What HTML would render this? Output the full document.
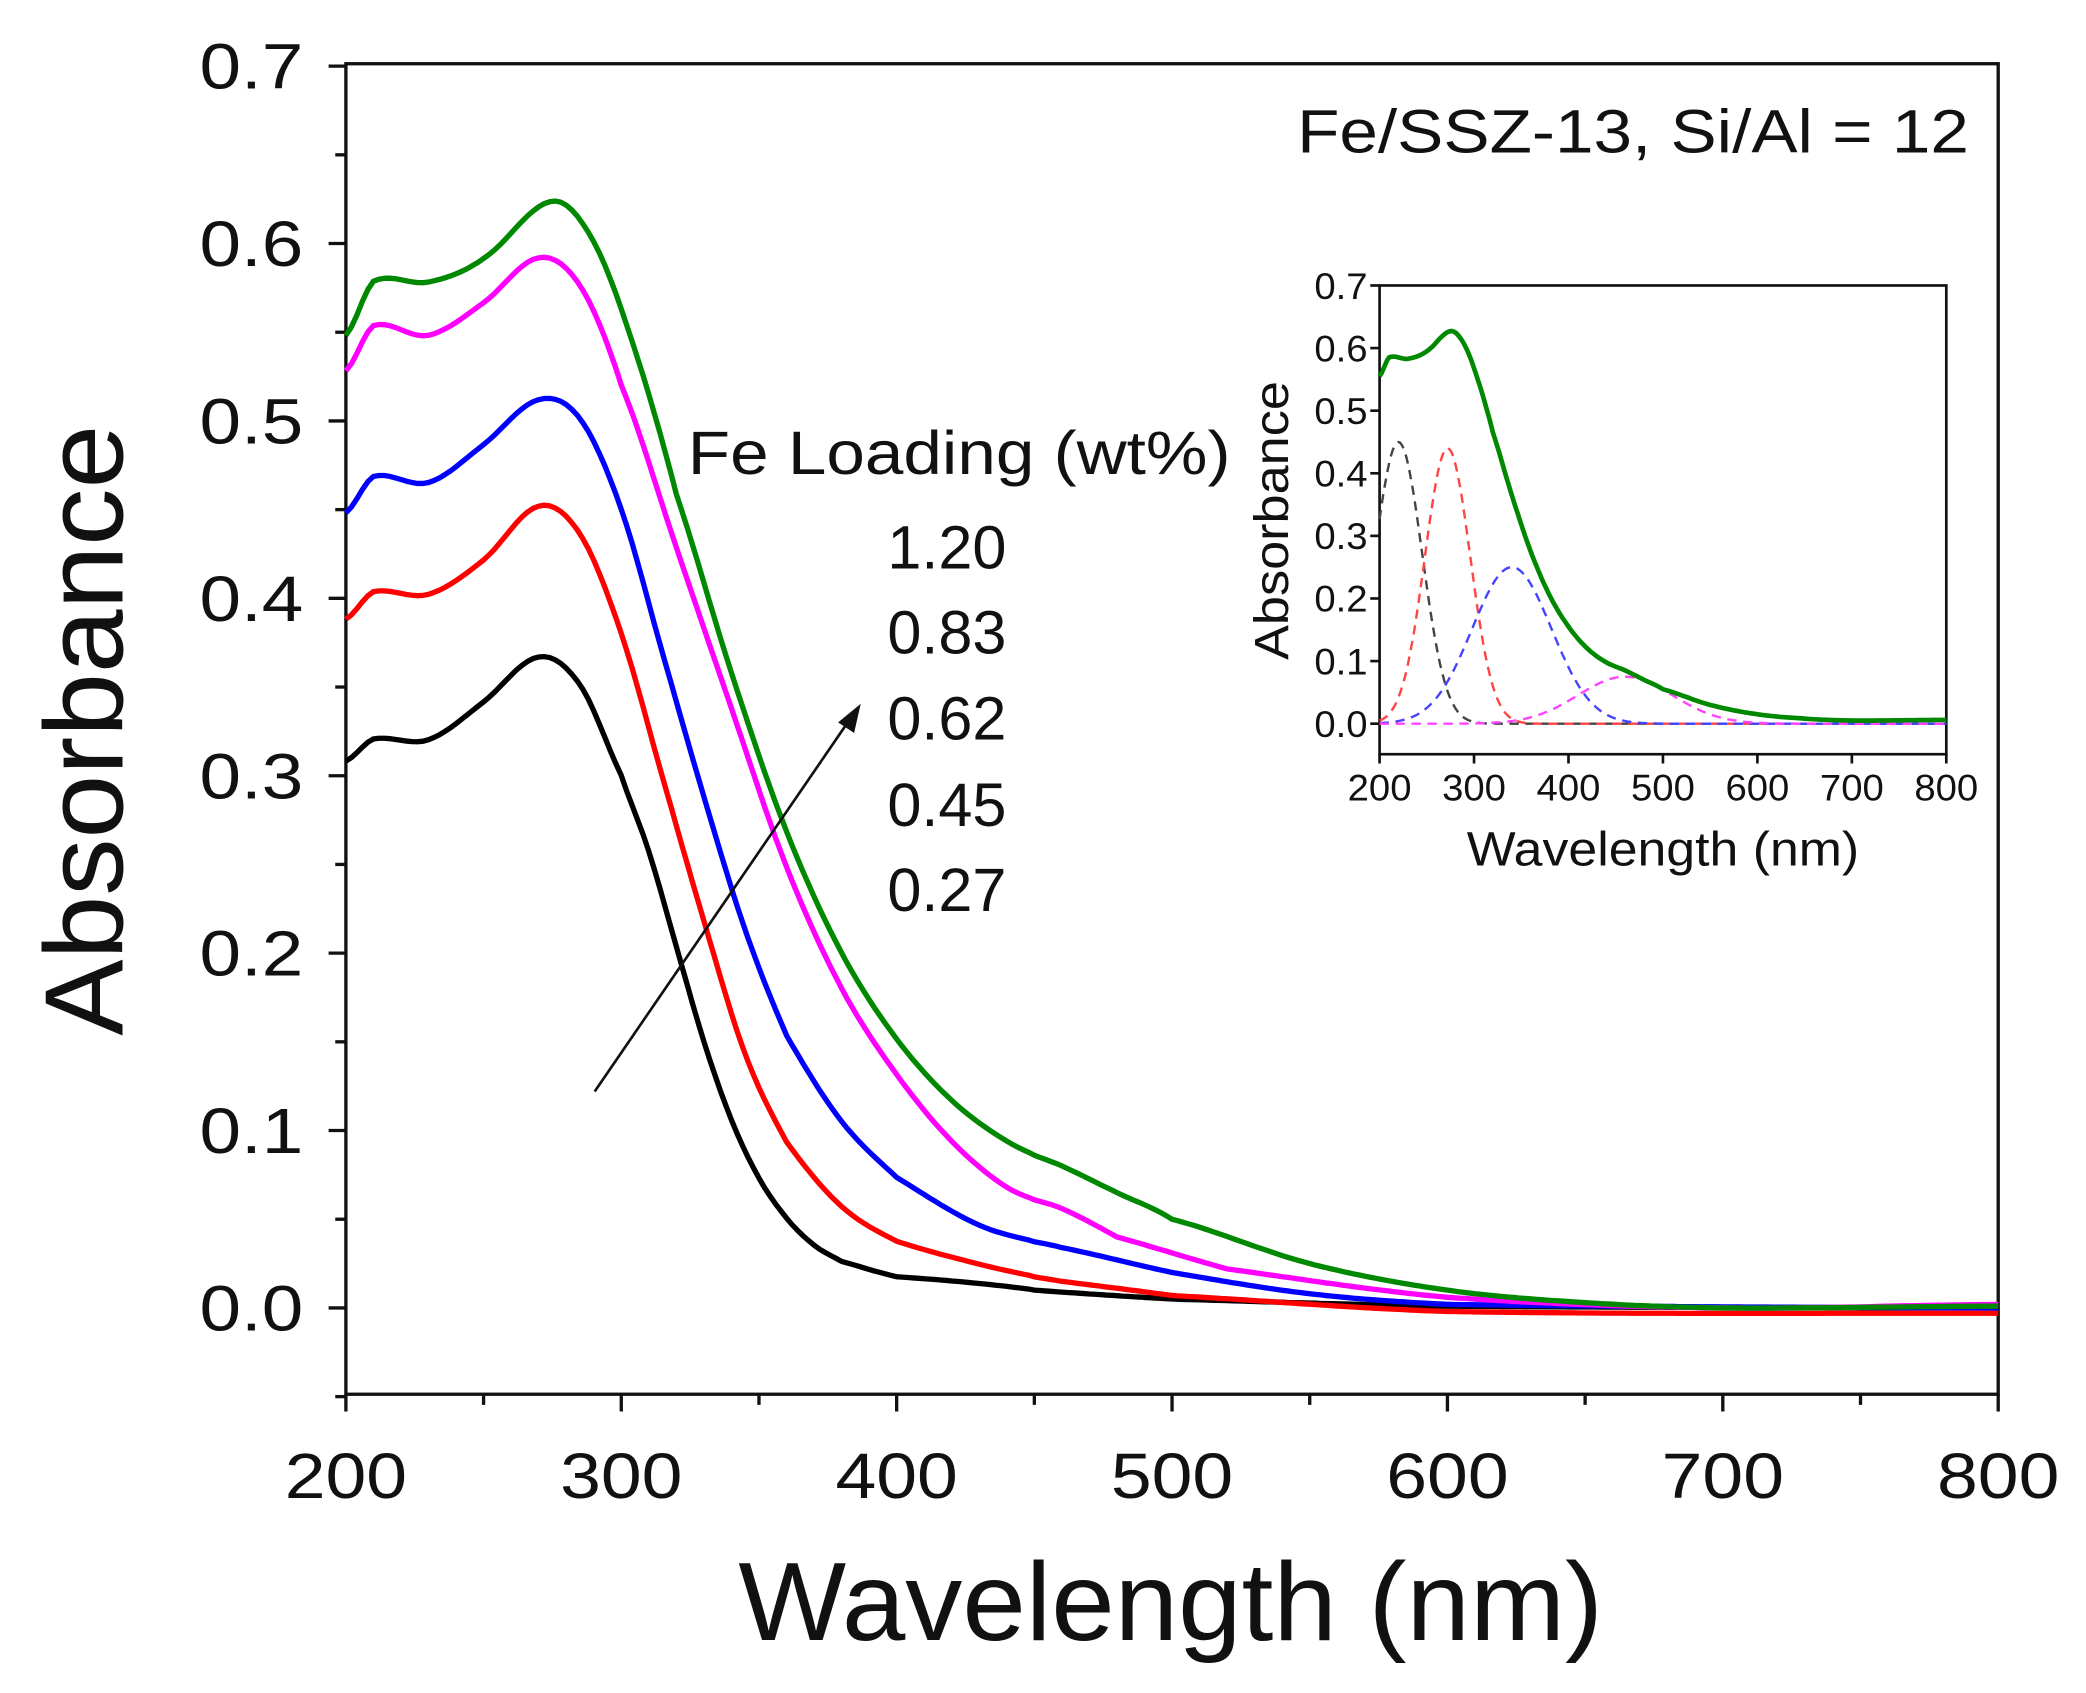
<!DOCTYPE html>
<html><head><meta charset="utf-8"><style>html,body{margin:0;padding:0;background:#fff}svg{display:block}text{font-family:"Liberation Sans",sans-serif;fill:#111}</style></head>
<body>
<svg id="s" width="2086" height="1693" viewBox="0 0 1568 1275" preserveAspectRatio="none" xmlns="http://www.w3.org/2000/svg">
<g id="g"></g>
<text x="1480" y="115" font-size="46" text-anchor="end" textLength="505" lengthAdjust="spacingAndGlyphs">Fe/SSZ-13, Si/Al = 12</text>
<text x="517" y="357" font-size="46" textLength="408" lengthAdjust="spacingAndGlyphs">Fe Loading (wt%)</text>
<text x="667" y="428" font-size="46">1.20</text>
<text x="667" y="492" font-size="46">0.83</text>
<text x="667" y="557" font-size="46">0.62</text>
<text x="667" y="622" font-size="46">0.45</text>
<text x="667" y="686" font-size="46">0.27</text>
<text x="880" y="1235" font-size="84" text-anchor="middle" textLength="650" lengthAdjust="spacingAndGlyphs">Wavelength (nm)</text>
<text transform="translate(92,550) rotate(-90)" font-size="84" text-anchor="middle" textLength="460" lengthAdjust="spacingAndGlyphs">Absorbance</text>
<text x="1250" y="652" font-size="36" text-anchor="middle" textLength="295" lengthAdjust="spacingAndGlyphs">Wavelength (nm)</text>
<text transform="translate(968,392) rotate(-90)" font-size="36" text-anchor="middle" textLength="210" lengthAdjust="spacingAndGlyphs">Absorbance</text>
<line x1="447" y1="822" x2="640" y2="540" stroke="#111" stroke-width="2"/>
<polygon points="647,530 630,544 642,552" fill="#111"/>
</svg>
<script>
const g=document.getElementById('g');let h='';
function P(a){return a.map((p,i)=>(i?'L':'M')+p[0].toFixed(1)+','+p[1].toFixed(1)).join('');}
function interp(d,x){for(let i=0;i<d.length-1;i++){if(x<=d[i+1][0]){const x0=d[i][0],x1=d[i+1][0],p0=(d[i-1]||d[i])[1],p1=d[i][1],p2=d[i+1][1],p3=(d[i+2]||d[i+1])[1];const t=(x-x0)/(x1-x0);const t2=t*t,t3=t2*t;return 0.5*((2*p1)+(-p0+p2)*t+(2*p0-5*p1+4*p2-p3)*t2+(-p0+3*p1-3*p2+p3)*t3);}}return d[d.length-1][1];}
const L=260,R=1502,T=48,B=1050,X=w=>L+(w-200)*207/100,Y=a=>985-a*1336;
h+=`<rect x="${L}" y="${T}" width="${R-L}" height="${B-T}" fill="none" stroke="#111" stroke-width="2.5"/>`;
for(let w=200;w<=800;w+=50){const maj=w%100==0;h+=`<line x1="${X(w)}" y1="${B}" x2="${X(w)}" y2="${B+(maj?13:8)}" stroke="#111" stroke-width="2.5"/>`;if(maj)h+=`<text x="${X(w)}" y="1128" font-size="48" text-anchor="middle" textLength="${w==200?92:92}" lengthAdjust="spacingAndGlyphs">${w}</text>`;}
for(let k=-1;k<=14;k++){const a=k*0.05,maj=k%2==0;h+=`<line x1="${L}" y1="${Y(a)}" x2="${L-(maj?13:8)}" y2="${Y(a)}" stroke="#111" stroke-width="2.5"/>`;if(maj&&k>=0)h+=`<text x="228" y="${Y(a)+17}" font-size="48" text-anchor="end" textLength="78" lengthAdjust="spacingAndGlyphs">${a.toFixed(1)}</text>`;}
const S={
'#000':[[200,.31],[210,.322],[230,.32],[250,.34],[270,.365],[285,.35],[300,.3],[310,.258],[320,.205],[330,.152],[340,.108],[350,.075],[360,.052],[370,.036],[380,.026],[400,.016],[450,.01],[500,.005],[600,.001],[800,0]],
'#f00':[[200,.39],[210,.405],[230,.402],[250,.42],[270,.45],[285,.435],[300,.38],[315,.3],[330,.22],[345,.145],[360,.095],[380,.057],[400,.036],[430,.023],[460,.015],[500,.007],[600,-.002],[800,-.003]],
'#00f':[[200,.45],[210,.47],[230,.465],[250,.485],[270,.51],[285,.5],[300,.45],[315,.37],[330,.29],[345,.215],[360,.155],[380,.105],[400,.072],[430,.045],[460,.034],[500,.02],[550,.008],[600,.002],[800,0]],
'#f0f':[[200,.53],[210,.555],[230,.548],[250,.565],[270,.59],[285,.575],[300,.52],[320,.43],[340,.34],[360,.25],[380,.18],[400,.13],[420,.092],[440,.067],[460,.056],[480,.04],[520,.022],[600,.006],[700,0],[800,.002]],
'#080':[[200,.55],[210,.58],[230,.578],[250,.59],[275,.622],[290,.6],[305,.54],[320,.46],[340,.36],[360,.27],[380,.2],[400,.15],[420,.115],[440,.093],[460,.08],[480,.065],[500,.05],[550,.025],[600,.01],[650,.003],[700,0],[800,.001]]};
for(const c in S){const a=[];for(let w=200;w<=800;w+=2)a.push([X(w),Y(interp(S[c],w)+(w<450?(Math.sin(w*3.1)*0.002):0))]);h+=`<path d="${P(a)}" fill="none" stroke="${c}" stroke-width="4"/>`;}
const iL=1037,iR=1463,iT=215,iY0=545,iB=568,IX=w=>iL+(w-200)*(iR-iL)/600,IY=a=>iY0-a*(iY0-iT)/0.7;
h+=`<rect x="${iL}" y="${iT}" width="${iR-iL}" height="${iB-iT}" fill="#fff" stroke="#111" stroke-width="2"/>`;
for(let w=200;w<=800;w+=100){h+=`<line x1="${IX(w)}" y1="${iB}" x2="${IX(w)}" y2="${iB+7}" stroke="#111" stroke-width="2"/><text x="${IX(w)}" y="603" font-size="28" text-anchor="middle" textLength="48" lengthAdjust="spacingAndGlyphs">${w}</text>`;}
for(let k=0;k<=7;k++){const a=k/10;h+=`<line x1="${iL}" y1="${IY(a)}" x2="${iL-7}" y2="${IY(a)}" stroke="#111" stroke-width="2"/><text x="1028" y="${IY(a)+10}" font-size="28" text-anchor="end" textLength="40" lengthAdjust="spacingAndGlyphs">${a.toFixed(1)}</text>`;}
const G=[['#444',220,.45,25],['#f44',272,.44,24],['#44f',340,.25,42],['#f4f',460,.075,50]];
for(const [c,m,A,s] of G){const a=[];for(let w=200;w<=800;w+=2)a.push([IX(w),IY(A*Math.exp(-((w-m)**2)/(2*s*s)))]);h+=`<path d="${P(a)}" fill="none" stroke="${c}" stroke-width="1.8" stroke-dasharray="7,5"/>`;}
{const a=[];for(let w=200;w<=800;w+=2)a.push([IX(w),IY(interp(S['#080'],w)+.005)]);h+=`<path d="${P(a)}" fill="none" stroke="#080" stroke-width="3.5"/>`;}
g.innerHTML=h;
</script>
</body></html>
